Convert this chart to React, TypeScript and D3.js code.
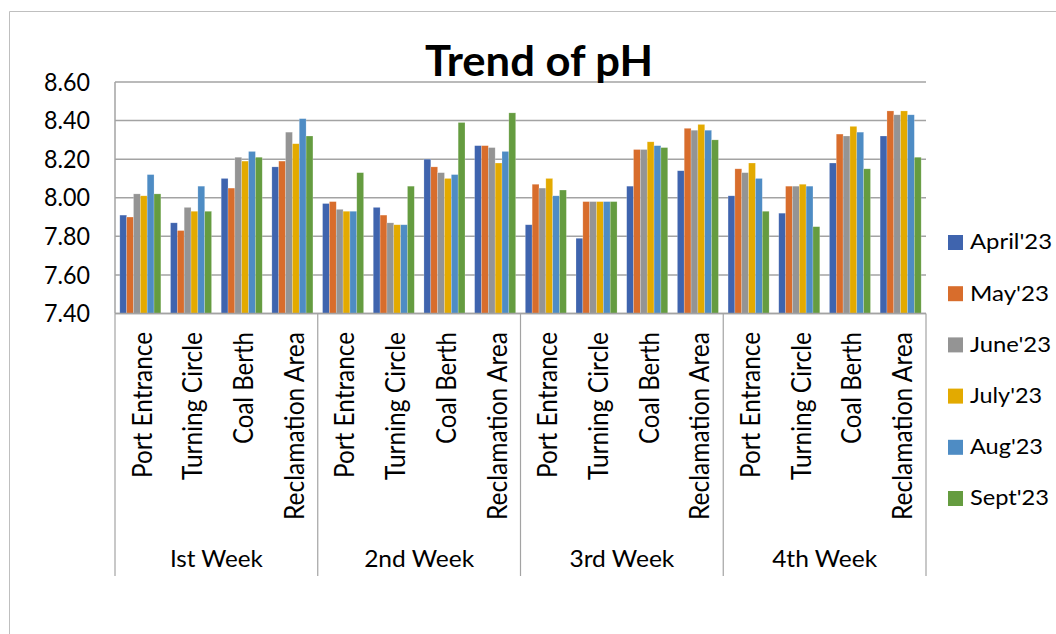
import React from 'react';
import * as d3 from 'd3';

const weeks = ['Ist Week', '2nd Week', '3rd Week', '4th Week'];
const sites = ['Port Entrance', 'Turning Circle', 'Coal Berth', 'Reclamation Area'];
const months = ["April'23", "May'23", "June'23", "July'23", "Aug'23", "Sept'23"];
const yTicks = [7.4, 7.6, 7.8, 8.0, 8.2, 8.4, 8.6];

// values in week order: W1 (PE, TC, CB, RA), W2 ..., W4
const april = [7.91, 7.87, 8.10, 8.16, 7.97, 7.95, 8.20, 8.27, 7.86, 7.79, 8.06, 8.14, 8.01, 7.92, 8.18, 8.32];
const may = [7.90, 7.83, 8.05, 8.19, 7.98, 7.91, 8.16, 8.27, 8.07, 7.98, 8.25, 8.36, 8.15, 8.06, 8.33, 8.45];
const june = [8.02, 7.95, 8.21, 8.34, 7.94, 7.87, 8.13, 8.26, 8.05, 7.98, 8.25, 8.35, 8.13, 8.06, 8.32, 8.43];
const july = [8.01, 7.93, 8.19, 8.28, 7.93, 7.86, 8.10, 8.18, 8.10, 7.98, 8.29, 8.38, 8.18, 8.07, 8.37, 8.45];
const aug = [8.12, 8.06, 8.24, 8.41, 7.93, 7.86, 8.12, 8.24, 8.01, 7.98, 8.27, 8.35, 8.10, 8.06, 8.34, 8.43];
const sept = [8.02, 7.93, 8.21, 8.32, 8.13, 8.06, 8.39, 8.44, 8.04, 7.98, 8.26, 8.30, 7.93, 7.85, 8.15, 8.21];

const series = [april, may, june, july, aug, sept];
const colors = ['#3F64AE', '#D86D2C', '#949494', '#E3AA00', '#4E8CC4', '#659C40'];

// measured label lengths (px) to mimic the original text widths
const siteLen = [146, 148, 112, 188];
const weekLen = [93, 110, 105, 105];
const legendLen = [82, 79, 81, 72, 73, 79];

const FONT = 'Lato, "Open Sans", sans-serif';

const App = () => {
  const left = 115, right = 926, top = 82, bottom = 313.5;

  const cats = d3.range(weeks.length * sites.length);
  const x = d3.scaleBand<number>().domain(cats).range([left, right]).paddingInner(0.19).paddingOuter(0.095);
  const xm = d3.scaleBand<number>().domain(d3.range(months.length)).range([0, x.bandwidth()]);
  const y = d3.scaleLinear().domain([7.4, 8.6]).range([bottom, top]);
  const step = x.step();
  const weekW = (right - left) / weeks.length;

  return (
    <svg width={1056} height={634} style={{ position: 'absolute', left: 0, top: 0, background: '#fff' }}>
      {/* outer chart border */}
      <line x1={9.5} x2={1056} y1={11.5} y2={11.5} stroke="#bfbfbf" />
      <line x1={9.5} x2={9.5} y1={11.5} y2={634} stroke="#bfbfbf" />

      {/* gridlines */}
      {yTicks.map(t => (
        <line key={t} x1={left} x2={right} y1={y(t)} y2={y(t)} stroke="#a3a3a3" strokeWidth={1.5} />
      ))}
      {yTicks.map(t => (
        <text key={'l' + t} x={90} y={y(t) + 8.7} textAnchor="end" fontFamily={FONT} fontSize={25}
          textLength={46} lengthAdjust="spacingAndGlyphs" fill="#000">{t.toFixed(2)}</text>
      ))}
      <line x1={left} x2={left} y1={top} y2={bottom} stroke="#a3a3a3" strokeWidth={1.5} />

      {/* bars */}
      {series.map((vals, si) => (
        <g key={si} fill={colors[si]}>
          {vals.map((v, ci) => (
            <rect key={ci} x={(x(ci) as number) + (xm(si) as number)} y={y(v)}
              width={xm.bandwidth()} height={bottom - y(v)} stroke="#ffffff" strokeOpacity={0.35} strokeWidth={0.6} />
          ))}
        </g>
      ))}

      {/* category axis */}
      <line x1={left} x2={right} y1={bottom} y2={bottom} stroke="#a3a3a3" strokeWidth={1.5} />
      {d3.range(weeks.length + 1).map(i => (
        <line key={'s' + i} x1={left + i * weekW} x2={left + i * weekW} y1={bottom} y2={576} stroke="#a3a3a3" strokeWidth={1.2} />
      ))}
      {cats.map(ci => {
        const cx = left + step * ci + step / 2;
        return (
          <text key={'c' + ci} transform={`translate(${cx + 11.4},332) rotate(-90)`} textAnchor="end"
            fontFamily={FONT} fontSize={26} textLength={siteLen[ci % 4]} lengthAdjust="spacingAndGlyphs" fill="#000">
            {sites[ci % 4]}
          </text>
        );
      })}
      {weeks.map((w, i) => (
        <text key={w} x={left + weekW * (i + 0.5)} y={566.7} textAnchor="middle" fontFamily={FONT} fontSize={22.3}
          textLength={weekLen[i]} lengthAdjust="spacingAndGlyphs" fill="#000">{w}</text>
      ))}

      {/* title */}
      <text x={539} y={76} textAnchor="middle" fontFamily={FONT} fontWeight="bold" fontSize={42}
        textLength={228} lengthAdjust="spacingAndGlyphs" fill="#000">Trend of pH</text>

      {/* legend */}
      {months.map((m, i) => (
        <g key={m} transform={`translate(0,${242.5 + i * 51.2})`}>
          <rect x={948} y={-7.5} width={15} height={15} fill={colors[i]} />
          <text x={970} y={6.8} fontFamily={FONT} fontSize={21.4} textLength={legendLen[i]}
            lengthAdjust="spacingAndGlyphs" fill="#000">{m}</text>
        </g>
      ))}
    </svg>
  );
};

export default App;
